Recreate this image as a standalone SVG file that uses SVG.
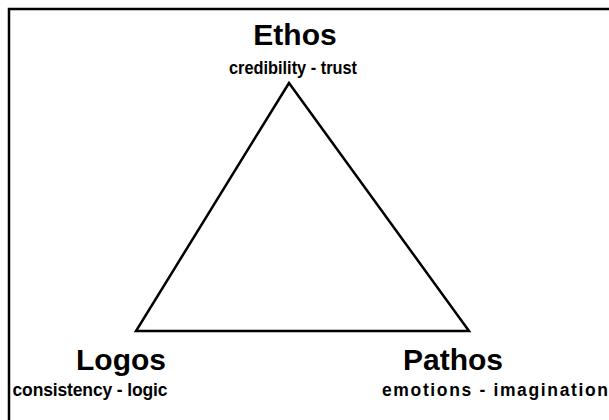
<svg xmlns="http://www.w3.org/2000/svg" width="609" height="420" viewBox="0 0 609 420">
<style>
.t{font-family:"Liberation Sans",Arial,sans-serif;font-weight:bold;font-size:30px;fill:#000;text-anchor:middle}
.s{font-family:"Liberation Sans",Arial,sans-serif;font-weight:bold;font-size:17.5px;fill:#000;text-anchor:middle}
</style>
<rect x="0" y="0" width="609" height="420" fill="#fff"/>
<rect x="9" y="9" width="610" height="420" fill="none" stroke="#000" stroke-width="2.5"/>
<g id="connectors">
<polygon points="289,83 136,331 469,331" fill="none" stroke="#000" stroke-width="2.5" stroke-linejoin="miter"/>
</g>
<g id="ethos"><text class="t" x="295" y="45">Ethos</text><text class="s" x="293" y="74" textLength="128" lengthAdjust="spacingAndGlyphs">credibility - trust</text></g>
<g id="logos"><text class="t" x="121" y="370">Logos</text><text class="s" x="90" y="396" textLength="155" lengthAdjust="spacing">consistency - logic</text></g>
<g id="pathos"><text class="t" x="453" y="370">Pathos</text><text class="s" x="495" y="396" textLength="226" lengthAdjust="spacing">emotions - imagination</text></g>
</svg>
